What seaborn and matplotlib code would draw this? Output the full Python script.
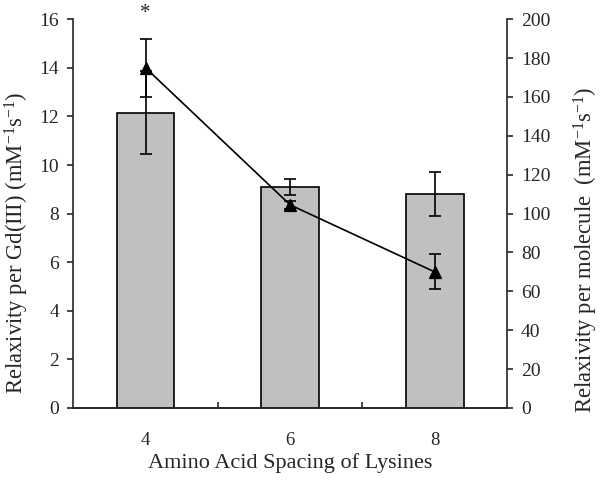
import matplotlib
matplotlib.use('Agg')
import matplotlib.pyplot as plt
import seaborn as sns
import pandas as pd
import numpy as np

# values
spacing = ['4', '6', '8']
per_gd = [12.15, 9.09, 8.80]          # bars, left axis
per_gd_err = [1.70, 0.34, 0.90]
per_molecule = [175.0, 104.5, 70.0]   # triangles, right axis
per_molecule_err = [15.0, 2.0, 9.0]

sns.set_style('ticks')
plt.rcParams['font.family'] = ['Liberation Serif', 'DejaVu Serif']
plt.rcParams['mathtext.fontset'] = 'custom'
plt.rcParams['mathtext.rm'] = 'Liberation Serif'
plt.rcParams['mathtext.it'] = 'Liberation Serif:italic'

df = pd.DataFrame({'Spacing': spacing, 'Gd': per_gd, 'Molecule': per_molecule})

fig = plt.figure(figsize=(6, 4.8), dpi=100)
ax = fig.add_axes([0.122, 0.15, 0.723, 0.81])

sns.barplot(data=df, x='Spacing', y='Gd', color='#c0c0c0', edgecolor='black',
            linewidth=1.2, width=0.4, saturation=1, errorbar=None, ax=ax)
pos = np.arange(len(spacing))
ax.errorbar(pos, per_gd, yerr=per_gd_err, fmt='none', ecolor='black',
            elinewidth=1.2, capsize=4, capthick=1.2, zorder=3)

ax.set_xlim(-0.5, 2.5)
ax.set_ylim(0, 16)
ax.set_yticks(range(0, 17, 2))
ax.set_xticks(pos)
ax.set_xticklabels(spacing)
ax.set_xticks([0.5, 1.5], minor=True)
ax.tick_params(axis='x', which='major', length=0, pad=17, labelsize=13.5)
ax.tick_params(axis='x', which='minor', direction='in', length=4, width=1.2)
ax.tick_params(axis='y', direction='out', length=4, width=1.2, labelsize=14, pad=6)
ax.set_xlabel('Amino Acid Spacing of Lysines', fontsize=16, labelpad=3)
ax.set_ylabel('Relaxivity per Gd(III) (mM$^{\\mathrm{-1}}$s$^{\\mathrm{-1}}$)', fontsize=16.3)
ax.yaxis.set_label_coords(-0.098, 0.424)

ax2 = ax.twinx()
sns.pointplot(data=df, x='Spacing', y='Molecule', color='black', markers='^',
              linestyles='-', errorbar=None, markersize=8, linewidth=1.2, ax=ax2)
ax2.errorbar(pos, per_molecule, yerr=per_molecule_err, fmt='none', ecolor='black',
             elinewidth=1.2, capsize=4, capthick=1.2, zorder=4)
ax2.set_xlim(-0.5, 2.5)
ax2.set_ylim(0, 200)
ax2.set_yticks(range(0, 201, 20))
ax2.tick_params(axis='y', direction='out', length=4, width=1.2, labelsize=14, pad=6)
ax2.set_ylabel('Relaxivity per molecule  (mM$^{\\mathrm{-1}}$s$^{\\mathrm{-1}}$)', fontsize=16.3)
ax2.yaxis.set_label_coords(1.15, 0.406)
ax2.set_xlabel('')

ax2.text(0, 203, '*', ha='center', va='center', fontsize=15, clip_on=False)

for a in (ax, ax2):
    a.spines['top'].set_visible(False)
    for s in ('left', 'right', 'bottom'):
        a.spines[s].set_linewidth(1.2)
ax.spines['right'].set_visible(False)
ax2.spines['left'].set_visible(False)

fig.savefig('out.png', dpi=100)
